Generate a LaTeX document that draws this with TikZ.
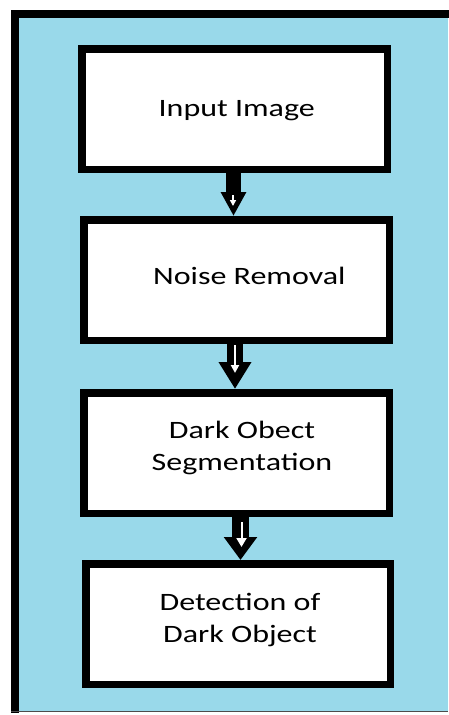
\documentclass[tikz,border=0pt]{standalone}
\usepackage{fontspec}
\newfontfamily\labelfont[FakeStretch=1.28]{Carlito}
\usetikzlibrary{arrows.meta}
\definecolor{panelblue}{HTML}{99D9EA}
\begin{document}
\begin{tikzpicture}[x=1pt,y=-1pt,
  stepbox/.style={draw=black, fill=white, line width=7.5pt, rectangle, inner sep=0pt,
    minimum width=305.5pt, minimum height=120.5pt},
  caption/.style={font=\labelfont\fontsize{25}{32}\selectfont, align=center, anchor=base, inner sep=0pt},
  innerarrow/.style={white, line width=2pt}
]
\useasboundingbox (0,0) rectangle (448,715);
\fill[white] (0,0) rectangle (448,715);
% outer panel
\fill[panelblue] (11,9.5) rectangle (448,712);
\draw[black, line width=8pt] (15,712.5) -- (15,13.5) -- (449,13.5);
\draw[black!70, line width=1pt] (11,711.8) -- (448,711.8);

% boxes
\node[stepbox] (b1) at (234.5,109) {};
\node[stepbox] (b2) at (236.5,280) {};
\node[stepbox] (b3) at (236.5,453) {};
\node[stepbox, minimum width=304.5pt] (b4) at (238,624) {};

% labels (base = baseline of the last line)
\node[caption] (t1) at (236.7,116.7) {Input Image};
\node[caption] (t2) at (249.3,284.3) {Noise Removal};
\node[caption] (t3) at (242,470) {Dark Obect\\Segmentation};
\node[caption] (t4) at (240,642) {Detection of\\Dark Object};

% block arrows
\draw[black, line width=15pt, -{Triangle[width=24pt,length=24pt]}]
  ([xshift=-1pt]b1.south) -- ([xshift=-1pt]b1.south |- b2.north);
\draw[innerarrow, -{Triangle[width=6pt,length=6pt]}]
  ([shift={(-1.5,22)}]b1.south) -- ([shift={(-1.5,33)}]b1.south);

\draw[black, line width=16pt, -{Triangle[width=31pt,length=27pt]}]
  ([xshift=-1.5pt]b2.south) -- ([xshift=-1.5pt]b2.south |- b3.north);
\draw[innerarrow, -{Triangle[width=8pt,length=8pt]}]
  ([shift={(-1.5,1)}]b2.south) -- ([shift={(-1.5,29)}]b2.south);

\draw[black, line width=17pt, -{Triangle[width=32pt,length=23pt]}]
  ([xshift=4pt]b3.south) -- ([xshift=4pt]b3.south |- b4.north);
\draw[innerarrow, -{Triangle[width=10pt,length=9pt]}]
  ([shift={(5,5)}]b3.south) -- ([shift={(5,30)}]b3.south);
\end{tikzpicture}
\end{document}
